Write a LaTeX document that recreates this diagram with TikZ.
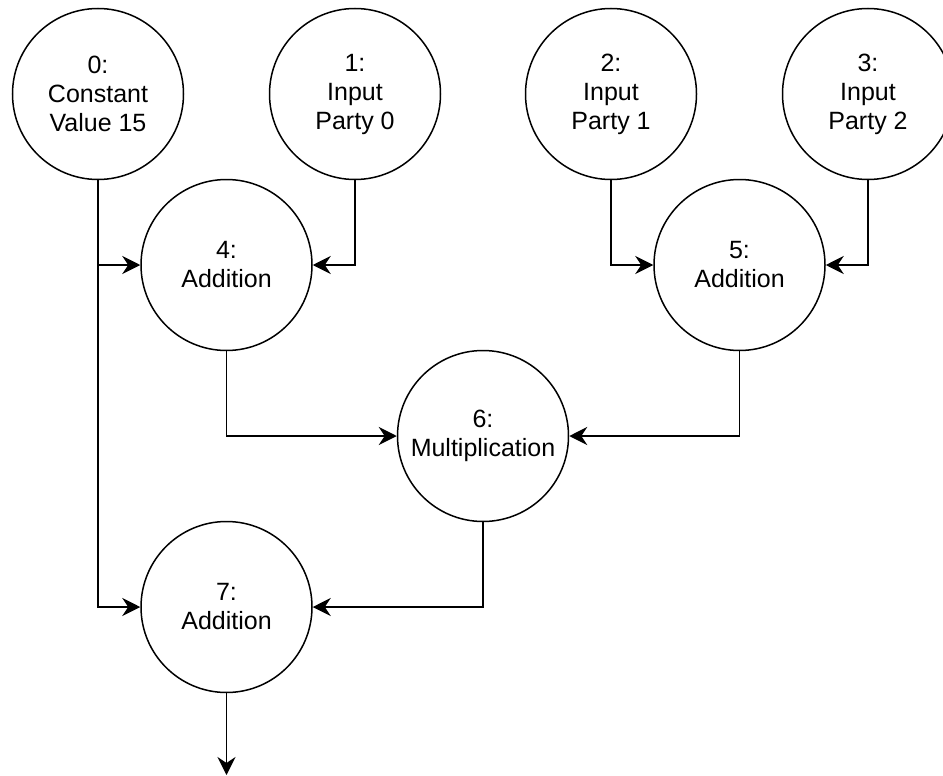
\documentclass[tikz,border=0pt]{standalone}
\usepackage{fontspec}
\setmainfont{Liberation Sans}
\usetikzlibrary{arrows.meta}
\tikzset{
  gate/.style={circle, draw, line width=1.5pt, minimum size=171pt, inner sep=0pt,
    align=center, font=\fontsize{25pt}{29pt}\selectfont},
  wire/.style={line width=1.5pt, -{Stealth[length=18pt, width=18pt, inset=6pt]}}
}
\begin{document}
\begin{tikzpicture}[x=1pt, y=-1pt]
\useasboundingbox (0,0) rectangle (943,776);
% input layer
\node[gate] (n0) at (98,94)    {0:\\Constant\\Value 15};
\node[gate] (n1) at (355,94)   {1:\\Input\\Party 0};
\node[gate] (n2) at (611,94)   {2:\\Input\\Party 1};
\node[gate] (n3) at (868,94)   {3:\\Input\\Party 2};
% operations
\node[gate] (n4) at (226.5,265) {4:\\Addition};
\node[gate] (n5) at (739.5,265) {5:\\Addition};
\node[gate] (n6) at (483,436)   {6:\\Multiplication};
\node[gate] (n7) at (226.5,607) {7:\\Addition};
\coordinate (out) at (226.5,775);
% wires
\draw[wire] (n0.south) |- (n4.west);
\draw[wire] (n0.south) |- (n7.west);
\draw[wire] (n1.south) |- (n4.east);
\draw[wire] (n2.south) |- (n5.west);
\draw[wire] (n3.south) |- (n5.east);
\draw[wire] (n4.south) |- (n6.west);
\draw[wire] (n5.south) |- (n6.east);
\draw[wire] (n6.south) |- (n7.east);
\draw[wire] (n7.south) -- (out);
\end{tikzpicture}
\end{document}
